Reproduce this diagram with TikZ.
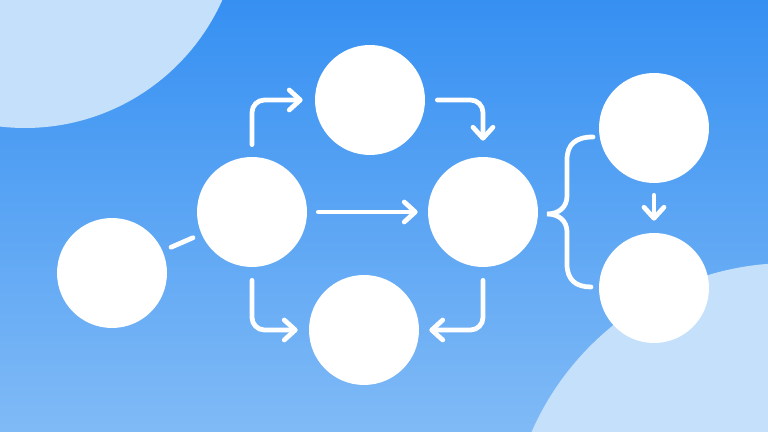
\documentclass[tikz,border=0pt]{standalone}
\usetikzlibrary{arrows.meta}
\definecolor{bgtop}{HTML}{3690F2}
\definecolor{bgbottom}{HTML}{80BAF6}
\definecolor{blob}{HTML}{C5E0FB}
\begin{document}
\begin{tikzpicture}[x=0.02cm, y=0.02cm, line width=0.095cm, white, line cap=round,
main node/.style={circle,fill=white,draw=none,minimum size=2.2cm,inner sep=0pt},
link/.style={rounded corners=0.25cm,-{Straight Barb[length=2.2mm,width=4mm,round]}}]
\useasboundingbox (0,0) rectangle (768,432);
\clip (0,0) rectangle (768,432);
\shade[top color=bgtop, bottom color=bgbottom, draw=none] (0,0) rectangle (768,432);
\fill[blob] (25,520) circle (216);
\fill[blob] (790,-113) circle (282);
\begin{scope}
\node[main node] (a) at (112,159) {};
\node[main node] (b) at (252,220) {};
\node[main node] (c) at (370,332) {};
\node[main node] (d) at (483,220) {};
\node[main node] (e) at (364,102) {};
\node[main node] (f) at (654,304) {};
\node[main node] (g) at (654,144) {};
\coordinate (brtop) at (593,295);
\coordinate (brbot) at (591,145);
\end{scope}
\begin{scope}
\draw[shorten <=0.14cm, shorten >=0.14cm] (a) -- (b);
\draw[link, shorten <=0.2cm, shorten >=0.2cm] (b) |- (c);
\draw[link, shorten <=0.2cm, shorten >=0.28cm] (c) -| (d);
\draw[link, shorten <=0.18cm, shorten >=0.16cm] (b) -- (d);
\draw[link, shorten <=0.22cm, shorten >=0.18cm] (b) |- (e);
\draw[link, shorten <=0.22cm, shorten >=0.16cm] (d) |- (e);
\draw[link, shorten <=0.2cm, shorten >=0.2cm] (f) -- (g);
% brace
\draw (brtop) .. controls (576,295) and (567,288) .. (567,272) -- (567,236)
  .. controls (567,225) and (559,218) .. (547,218)
  .. controls (559,218) and (567,211) .. (567,200) -- (567,168)
  .. controls (567,152) and (576,145) .. (brbot);
\end{scope}
\end{tikzpicture}
\end{document}
